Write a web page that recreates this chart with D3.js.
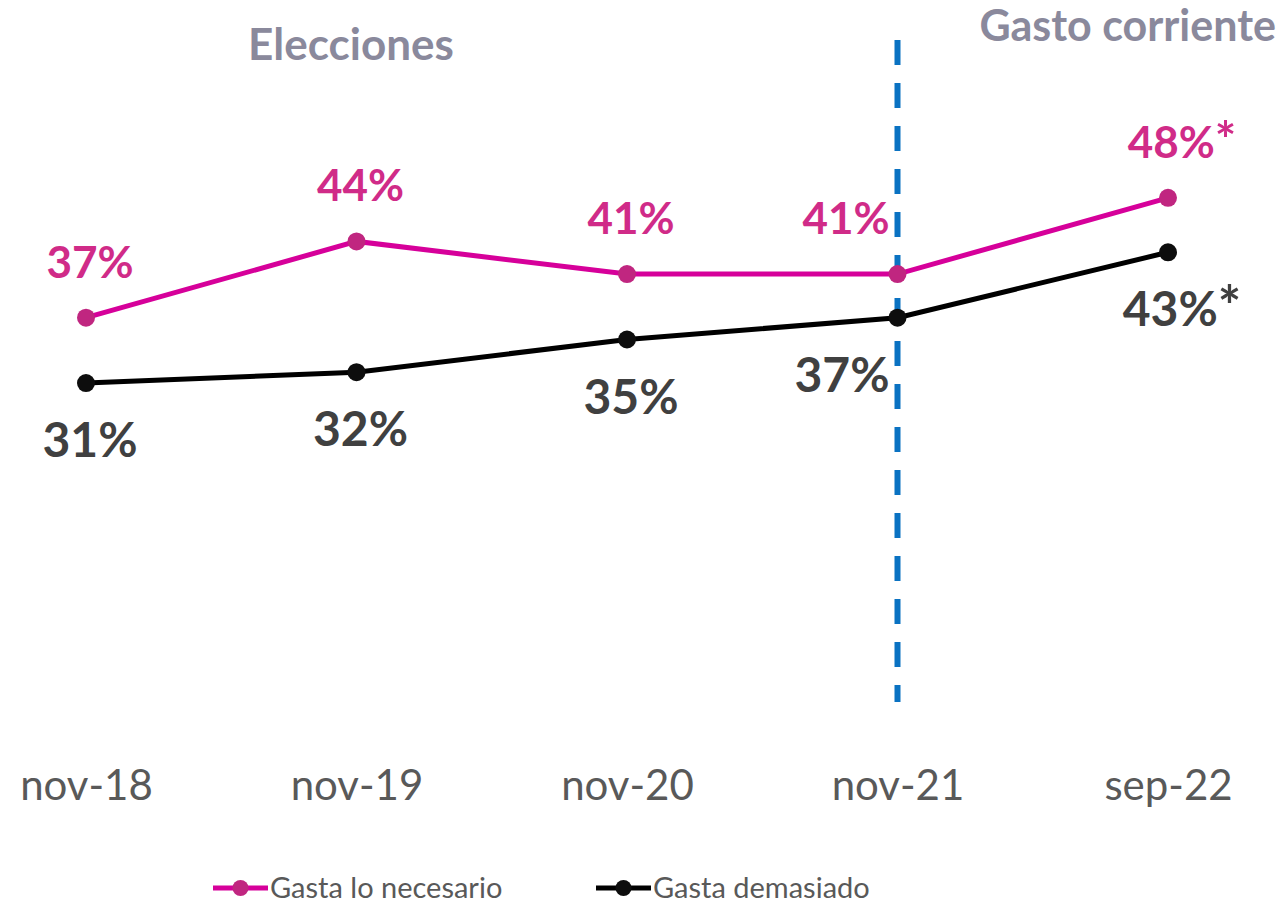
<!DOCTYPE html>
<html lang="es">
<head>
  <meta charset="UTF-8">
  <title>Gasta lo necesario vs demasiado</title>
  <style>
    body { margin: 0; background: #fff; }
    svg { display: block; font-family: Lato, "Open Sans", sans-serif; }
  </style>
</head>
<body>
  <svg id="chart" width="1283" height="904"></svg>
  <script src="https://d3js.org/d3.v7.min.js"></script>
  <script>
    // data
    const periods = ['nov-18', 'nov-19', 'nov-20', 'nov-21', 'sep-22'];
    const necesario = [37, 44, 41, 41, 48];
    const demasiado = [31, 32, 35, 37, 43];
    const starred = [false, false, false, false, true]; // significant change
    const seriesNames = ['Gasta lo necesario', 'Gasta demasiado'];
    const dividerAt = 'nov-21';

    const svg = d3.select('#chart');

    const x = d3.scalePoint().domain(periods).range([86, 1168]);
    const y = d3.scaleLinear().domain([0, 60]).range([721, 67]);

    const series = [
      { name: seriesNames[0], values: necesario, line: '#d6009a', dot: '#c02680', label: '#d02b88', dy: -40, size: 44 },
      { name: seriesNames[1], values: demasiado, line: '#000000', dot: '#0d0d0d', label: '#404040', dy: 74, size: 48 }
    ];

    // section titles
    svg.append('text')
      .attr('x', 351).attr('y', 60)
      .attr('text-anchor', 'middle')
      .attr('font-size', 44).attr('font-weight', 700)
      .attr('fill', '#8a899c')
      .text('Elecciones');
    svg.append('text')
      .attr('x', 1276).attr('y', 41)
      .attr('text-anchor', 'end')
      .attr('font-size', 43).attr('font-weight', 700)
      .attr('fill', '#8a899c')
      .text('Gasto corriente');

    // x axis labels, no line
    const xAxis = svg.append('g')
      .attr('transform', `translate(0, 760)`)
      .call(d3.axisBottom(x).tickSize(0).tickPadding(0));
    xAxis.select('.domain').remove();
    xAxis.selectAll('text')
      .attr('dy', 0).attr('y', 40)
      .attr('font-size', 42)
      .attr('font-family', 'Lato, sans-serif')
      .attr('fill', '#595959');

    const line = d3.line().x((d, i) => x(periods[i])).y(d => y(d));

    series.forEach(s => {
      svg.append('path')
        .datum(s.values)
        .attr('fill', 'none')
        .attr('stroke', s.line)
        .attr('stroke-width', 5)
        .attr('d', line);
    });

    // divider between the two periods (drawn over the lines)
    svg.append('line')
      .attr('x1', x(dividerAt)).attr('x2', x(dividerAt))
      .attr('y1', 40).attr('y2', 702)
      .attr('stroke', '#0a72c2')
      .attr('stroke-width', 6)
      .attr('stroke-dasharray', '25 18');

    series.forEach(s => {
      svg.append('g').selectAll('circle')
        .data(s.values)
        .join('circle')
        .attr('cx', (d, i) => x(periods[i]))
        .attr('cy', d => y(d))
        .attr('r', 9)
        .attr('fill', s.dot);

      const labels = svg.append('g').selectAll('text')
        .data(s.values)
        .join('text')
        .attr('x', (d, i) => {
          if (periods[i] === dividerAt) return x(periods[i]) - 8;
          return x(periods[i]) + (starred[i] ? 14 : 4);
        })
        .attr('y', d => y(d) + s.dy)
        .attr('text-anchor', (d, i) => periods[i] === dividerAt ? 'end' : 'middle')
        .attr('font-size', s.size).attr('font-weight', 700)
        .attr('fill', s.label)
        .text(d => d + '%');
      labels.filter((d, i) => starred[i])
        .append('tspan')
        .attr('font-size', s.size * 1.15)
        .text('*');
    });

    // legend
    const legend = svg.append('g').attr('transform', 'translate(0, 888)');
    const legendX = [213, 596];
    series.forEach((s, i) => {
      const g = legend.append('g').attr('transform', `translate(${legendX[i]}, 0)`);
      g.append('line').attr('x1', 0).attr('x2', 55)
        .attr('stroke', s.line).attr('stroke-width', 5);
      g.append('circle').attr('cx', 27.5).attr('r', 8).attr('fill', s.dot);
      g.append('text').attr('x', 57).attr('y', 10)
        .attr('font-size', 29).attr('fill', '#595959')
        .text(s.name);
    });
  </script>
</body>
</html>
